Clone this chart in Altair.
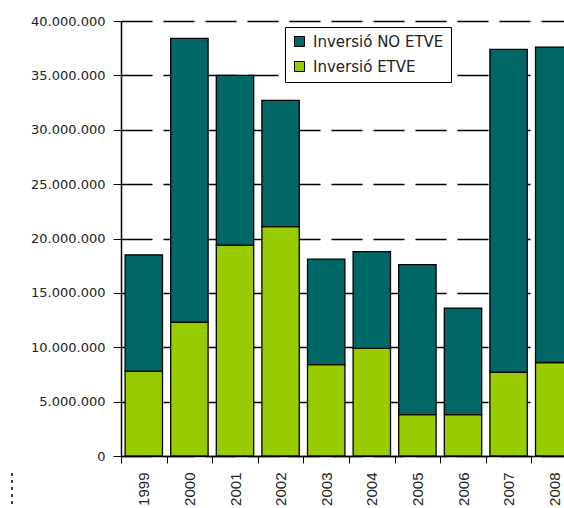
import altair as alt
import pandas as pd

years = ["1999", "2000", "2001", "2002", "2003", "2004", "2005", "2006", "2007", "2008"]
etve = [7800000, 12300000, 19400000, 21100000, 8400000, 9900000, 3800000, 3800000, 7700000, 8600000]
total = [18500000, 38400000, 35000000, 32700000, 18100000, 18800000, 17600000, 13600000, 37400000, 37600000]
no_etve = [t - e for t, e in zip(total, etve)]

s_no = "Inversió NO ETVE"
s_etve = "Inversió ETVE"
series = [s_no, s_etve]
colors = ["#006666", "#99CC00"]

rows = []
for y, e, n in zip(years, etve, no_etve):
    rows.append({"year": y, "serie": s_etve, "value": e, "ord": 0})
    rows.append({"year": y, "serie": s_no, "value": n, "ord": 1})
df = pd.DataFrame(rows)

label_expr = "replace(replace(format(datum.value, ','), ',', '.'), ',', '.')"

bars = alt.Chart(df).mark_bar(stroke="black", strokeWidth=1.3, width=alt.RelativeBandSize(0.82)).encode(
    x=alt.X("year:N", title=None,
            scale=alt.Scale(range=[0, 456], paddingInner=0, paddingOuter=0),
            axis=alt.Axis(labelAngle=-90, labelFontSize=15, labelFont="Liberation Sans",
                          labelColor="#222", tickBand="extent", tickColor="black",
                          tickSize=7, domainColor="black", domainWidth=1.5, labelPadding=9)),
    y=alt.Y("value:Q", stack="zero", title=None,
            scale=alt.Scale(domain=[0, 40000000], nice=False),
            axis=alt.Axis(values=[i * 5000000 for i in range(9)], labelExpr=label_expr,
                          labelFontSize=13, labelFont="DejaVu Sans", labelColor="#222",
                          tickColor="black", tickSize=8, domainColor="black", domainWidth=1.5,
                          labelPadding=8, grid=True, gridColor="black", gridWidth=1.5,
                          gridDash=[31, 11])),
    color=alt.Color("serie:N", scale=alt.Scale(domain=series, range=colors),
                    legend=alt.Legend(title=None, orient="none", legendX=164, legendY=6,
                                      fillColor="white", strokeColor="black", padding=7,
                                      symbolType="square", symbolSize=100,
                                      symbolStrokeColor="black", symbolStrokeWidth=1,
                                      symbolOpacity=1,
                                      labelFontSize=15, labelFont="DejaVu Sans",
                                      labelColor="#222", labelOffset=6, rowPadding=9)),
    order=alt.Order("ord:Q"),
)

dots = alt.Chart(pd.DataFrame({"a": [0]})).mark_rule(color="black", strokeWidth=1.5, strokeDash=[3, 4]).encode(
    x=alt.value(-109), x2=alt.value(-109), y=alt.value(452), y2=alt.value(490)
)

chart = alt.layer(bars, dots).properties(
    width=443, height=435,
    autosize=alt.AutoSizeParams(type="none"),
    padding={"left": 121, "top": 21, "right": 0, "bottom": 52},
).configure_view(stroke=None)

chart.save("out.html", embed_options={"renderer": "svg", "actions": False})
